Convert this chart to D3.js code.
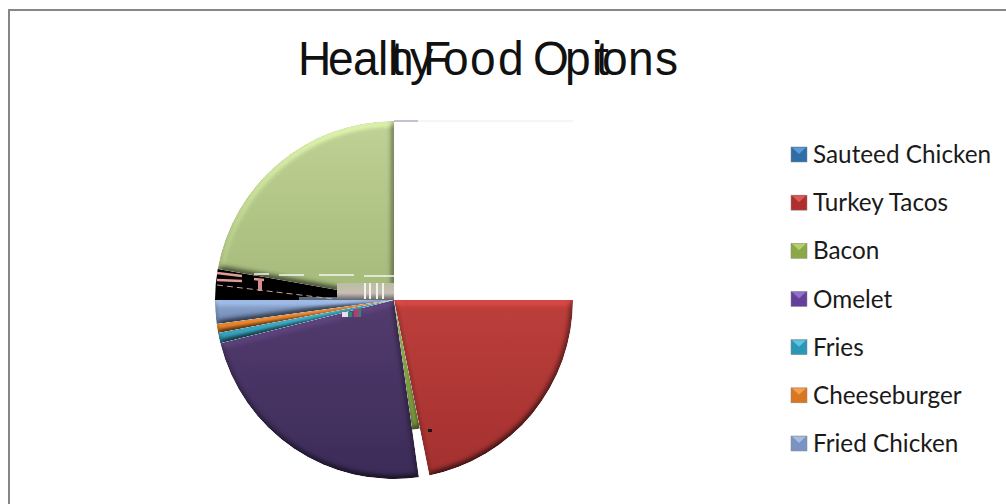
<!DOCTYPE html>
<html>
<head>
<meta charset="utf-8">
<script src="https://cdn.jsdelivr.net/npm/d3@7"></script>
<style>
html, body { margin: 0; padding: 0; background: #fff; overflow: hidden; }
svg { display: block; }
</style>
</head>
<body>
<div class="main-container"></div>
<script>
// values, the slices run clockwise from 12 o'clock
var categories = ["Sauteed Chicken", "Turkey Tacos", "Bacon", "Omelet", "Fries", "Cheeseburger", "Fried Chicken", "Pizza", "Salad"];
var values = [90, 78.6, 3.4, 84, 3.4, 2.9, 7.7, 10, 80];
var legendCount = 7;
var titleText = "Healthy Food Options";
// the title glyphs sit on top of each other in the reference
var titleCharX = [298, 328, 353, 378, 391, 388, 410, 423, 423, 443, 470, 498, 533, 533, 565, 596, 592, 602, 628, 655];
var sliceTop = ["#ffffff", "#c6423f", "#9bbb59", "#573f74", "#45adc8", "#f0943f", "#94aed6", "#000000", "#c9dc9c"];
var sliceBottom = ["#ffffff", "#ab3331", "#76923c", "#3e2d5c", "#2c8aa3", "#c9701f", "#7590c0", "#000000", "#abc27f"];
var swatchColors = ["#2e6da8", "#b02f2d", "#8aa845", "#64409a", "#2a97b5", "#d9761f", "#7a93c4"];
var swatchLight = ["#5a9ad6", "#d85a55", "#b4cf70", "#9070c8", "#60c4e0", "#f0a050", "#a8bce0"];

var svg = d3.select(".main-container").append("svg")
    .attr("width", 1006)
    .attr("height", 504);

var defs = svg.append("defs");

// bevel look from the old office pies
var bevel = defs.append("filter").attr("id", "bevel")
    .attr("x", "-5%").attr("y", "-5%").attr("width", "110%").attr("height", "110%")
    .attr("color-interpolation-filters", "sRGB");
bevel.append("feGaussianBlur").attr("in", "SourceAlpha").attr("stdDeviation", 3.2).attr("result", "blur");
var light = bevel.append("feDiffuseLighting").attr("in", "blur")
    .attr("surfaceScale", 3.2).attr("diffuseConstant", 1)
    .attr("lighting-color", "#ffffff").attr("result", "lit");
light.append("feDistantLight").attr("azimuth", 250).attr("elevation", 60);
bevel.append("feComposite").attr("in", "lit").attr("in2", "SourceGraphic")
    .attr("operator", "arithmetic").attr("k1", 1.1).attr("k2", 0).attr("k3", 0).attr("k4", 0)
    .attr("result", "shade");
bevel.append("feComposite").attr("in", "shade").attr("in2", "SourceAlpha").attr("operator", "in");

categories.forEach(function (c, i) {
    var g = defs.append("linearGradient").attr("id", "fill" + i)
        .attr("x1", 0).attr("y1", 0).attr("x2", 0).attr("y2", 1);
    g.append("stop").attr("offset", "0%").attr("stop-color", sliceTop[i]);
    g.append("stop").attr("offset", "100%").attr("stop-color", sliceBottom[i]);
});

var glitchFill = defs.append("linearGradient").attr("id", "glitchFill")
    .attr("x1", 0).attr("y1", 0).attr("x2", 0).attr("y2", 1);
glitchFill.append("stop").attr("offset", "0%").attr("stop-color", "#b9bea2");
glitchFill.append("stop").attr("offset", "60%").attr("stop-color", "#c9bdb4");
glitchFill.append("stop").attr("offset", "100%").attr("stop-color", "#5f6468");

// only the top and left of the frame show
svg.append("path")
    .attr("d", "M9,504V10H1006")
    .attr("fill", "none")
    .attr("stroke", "#868686")
    .attr("stroke-width", 2);

var titleSqueeze = 0.96;
svg.append("text")
    .attr("transform", "scale(" + titleSqueeze + ",1)")
    .attr("x", titleCharX.map(function (x) { return x / titleSqueeze; }).join(" "))
    .attr("y", 75)
    .style("font-family", "'Liberation Sans'")
    .style("font-size", "48px")
    .attr("fill", "#111")
    .text(titleText);

var pie = d3.pie().sort(null);
var arcs = pie(values);
var radius = 179;
var arc = d3.arc().innerRadius(0);

var pieGroup = svg.append("g").attr("transform", "translate(394,300)");

pieGroup.selectAll("path")
    .data(arcs)
    .enter()
    .append("path")
    .attr("d", function (d, i) {
        // bacon only comes out part of the way in the reference
        return arc.outerRadius(i === 2 ? 131 : radius)(d);
    })
    .attr("fill", function (d, i) { return "url(#fill" + i + ")"; })
    .attr("filter", function (d, i) { return (i === 0 || i === 7) ? null : "url(#bevel)"; });

// faint edge of the white first slice
pieGroup.append("line")
    .attr("x1", 0).attr("x2", radius)
    .attr("y1", -radius).attr("y2", -radius)
    .attr("stroke", "#ececec");
pieGroup.append("line")
    .attr("x1", 0).attr("x2", 24)
    .attr("y1", -radius).attr("y2", -radius)
    .attr("stroke", "#8a94aa");

// the broken rendering in the eighth slice
var glitch = pieGroup.append("g");
glitch.append("rect").attr("x", -57).attr("y", -17).attr("width", 57).attr("height", 17).attr("fill", "url(#glitchFill)");
glitch.append("rect").attr("x", -95).attr("y", -3).attr("width", 38).attr("height", 3).attr("fill", "#5d6a78");
[-30, -25, -18, -12].forEach(function (x) {
    glitch.append("rect").attr("x", x).attr("y", -17).attr("width", 2).attr("height", 16).attr("fill", "#f2f3e8");
});
glitch.append("path").attr("d", "M-177,-27L-152,-24M-177,-20L-152,-19M-140,-21L-130,-20")
    .attr("fill", "none").attr("stroke", "#e59a9a").attr("stroke-width", 2.5);
glitch.append("path").attr("d", "M-134,-21V-9")
    .attr("fill", "none").attr("stroke", "#d98a8a").attr("stroke-width", 4);
glitch.append("path").attr("d", "M-177,-15L-60,-1")
    .attr("fill", "none").attr("stroke", "#c9a0a0").attr("stroke-width", 1).attr("stroke-dasharray", "6 4");
glitch.append("path").attr("d", "M-140,-26H-125M-115,-25H-90M-75,-25H-40M-30,-24H0")
    .attr("fill", "none").attr("stroke", "#f5f5ee").attr("stroke-width", 1.5);

// small specks
glitch.append("rect").attr("x", -52).attr("y", 12).attr("width", 6).attr("height", 5).attr("fill", "#e8e0e8");
glitch.append("rect").attr("x", -46).attr("y", 12).attr("width", 4).attr("height", 5).attr("fill", "#2e8a78");
glitch.append("rect").attr("x", -40).attr("y", 9).attr("width", 5).attr("height", 8).attr("fill", "#b0406a");
glitch.append("rect").attr("x", -35).attr("y", 8).attr("width", 2).attr("height", 9).attr("fill", "#2e8a78");
glitch.append("rect").attr("x", 34).attr("y", 129).attr("width", 4).attr("height", 3).attr("fill", "#201010");

var legendY = d3.scalePoint()
    .domain(categories.slice(0, legendCount))
    .range([155, 444]);

var legend = svg.selectAll(".legend")
    .data(categories.slice(0, legendCount))
    .enter()
    .append("g")
    .attr("class", "legend")
    .attr("transform", function (d) { return "translate(791," + legendY(d) + ")"; });

legend.append("rect")
    .attr("x", 0).attr("y", -8)
    .attr("width", 16).attr("height", 15)
    .attr("fill", function (d, i) { return swatchColors[i]; })
    .attr("stroke", "#888").attr("stroke-width", 0.5);

legend.append("path")
    .attr("d", "M1,-7.5H15L8,-1Z")
    .attr("fill", function (d, i) { return swatchLight[i]; });

legend.append("text")
    .attr("x", 22)
    .attr("y", 8)
    .style("font-family", "Lato")
    .style("font-size", "24.3px")
    .attr("fill", "#1a1a1a")
    .text(function (d) { return d; });
</script>
</body>
</html>
